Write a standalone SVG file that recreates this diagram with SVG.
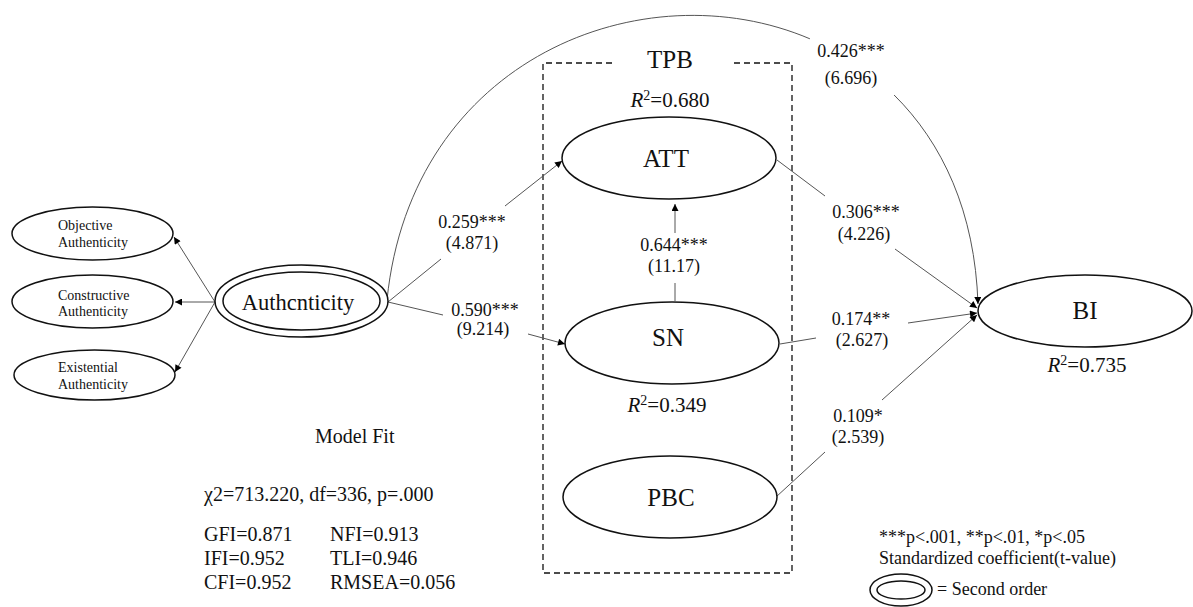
<svg xmlns="http://www.w3.org/2000/svg" width="1193" height="607" viewBox="0 0 1193 607">
  <style>
    text { font-family: "Liberation Serif", "Times New Roman", serif; fill: #111; }
    .node { fill: #fff; stroke: #111; stroke-width: 1.5; }
    .link { fill: none; stroke: #555; stroke-width: 1; }
    .arrow { marker-end: url(#head); }
    .coef { font-size: 18px; text-anchor: middle; }
    .lat { font-size: 25px; text-anchor: middle; }
    .small { font-size: 14px; }
    .r2 { font-size: 21px; text-anchor: middle; }
    .fit { font-size: 20px; }
    .legend { font-size: 18px; }
    .frame { fill: none; stroke: #111; stroke-width: 1.3; stroke-dasharray: 6 4; }
  </style>
  <defs>
    <marker id="head" viewBox="0 0 10 10" refX="10" refY="5" markerWidth="8" markerHeight="7" markerUnits="userSpaceOnUse" orient="auto">
      <path d="M0,0 L10,5 L0,10 z" fill="#000"/>
    </marker>
  </defs>

  <rect width="1193" height="607" fill="#fff"/>

  <!-- TPB frame: dashed box with a gap for its title -->
  <g id="tpb-frame">
    <path class="frame" d="M612,63 H543 V573 H792 V63 H730"/>
    <text class="lat" x="670" y="68">TPB</text>
  </g>

  <!-- Paths -->
  <g id="connectors">
    <!-- second-order loadings -->
    <path class="link arrow" d="M215,302 L174,237"/>
    <path class="link arrow" d="M215,302 L175,302"/>
    <path class="link arrow" d="M215,302 L175,372"/>
    <!-- Authenticity -> ATT -->
    <path class="link" d="M388,302 L441,259"/>
    <path class="link arrow" d="M505,206 L562,161"/>
    <!-- Authenticity -> SN -->
    <path class="link" d="M388,302 L443,315"/>
    <path class="link arrow" d="M528,334 L565,344"/>
    <!-- SN -> ATT -->
    <path class="link" d="M675,301 L675,283"/>
    <path class="link arrow" d="M675,233 L675,204"/>
    <!-- Authenticity -> BI (arc) -->
    <path class="link" d="M387,300 C411.5,58.1 643.6,-31.9 809.9,38.8"/>
    <path class="link arrow" d="M894.1,95 C942.3,142.6 975,211.8 978,304"/>
    <!-- ATT -> BI -->
    <path class="link" d="M777,160 L825,196"/>
    <path class="link arrow" d="M895,249 L977,308"/>
    <!-- SN -> BI -->
    <path class="link" d="M780,344 L816,338"/>
    <path class="link arrow" d="M908,323 L977,313"/>
    <!-- PBC -> BI -->
    <path class="link" d="M776,497 L825,452"/>
    <path class="link arrow" d="M882,400 L977,315"/>
  </g>

  <!-- Path coefficients -->
  <g id="coefficients">
    <text class="coef" x="472" y="228">0.259***</text>
    <text class="coef" x="472" y="249">(4.871)</text>
    <text class="coef" x="485" y="316">0.590***</text>
    <text class="coef" x="483" y="335">(9.214)</text>
    <text class="coef" x="674" y="251">0.644***</text>
    <text class="coef" x="674" y="272">(11.17)</text>
    <text class="coef" x="851" y="57">0.426***</text>
    <text class="coef" x="851" y="84">(6.696)</text>
    <text class="coef" x="866" y="218">0.306***</text>
    <text class="coef" x="864" y="240">(4.226)</text>
    <text class="coef" x="861" y="325">0.174**</text>
    <text class="coef" x="862" y="346">(2.627)</text>
    <text class="coef" x="858" y="422">0.109*</text>
    <text class="coef" x="858" y="443">(2.539)</text>
  </g>

  <!-- First-order authenticity factors -->
  <g id="objective">
    <ellipse class="node" cx="92.5" cy="233.5" rx="80.5" ry="26.5"/>
    <text class="small" x="58" y="230">Objective</text>
    <text class="small" x="58" y="247">Authenticity</text>
  </g>
  <g id="constructive">
    <ellipse class="node" cx="92.5" cy="301.5" rx="80.5" ry="26.5"/>
    <text class="small" x="58" y="300">Constructive</text>
    <text class="small" x="58" y="316">Authenticity</text>
  </g>
  <g id="existential">
    <ellipse class="node" cx="94.5" cy="375" rx="80.5" ry="25"/>
    <text class="small" x="58" y="372">Existential</text>
    <text class="small" x="58" y="389">Authenticity</text>
  </g>

  <!-- Second-order construct -->
  <g id="authenticity">
    <ellipse class="node" cx="301.5" cy="301" rx="86.5" ry="36"/>
    <ellipse class="node" cx="301.5" cy="301" rx="78.5" ry="29"/>
    <text x="298" y="310" font-size="22.5" text-anchor="middle">Authcnticity</text>
  </g>

  <!-- TPB constructs -->
  <g id="att">
    <text class="r2" x="670" y="107"><tspan font-style="italic">R</tspan><tspan font-size="14" dy="-7">2</tspan><tspan dy="7">=0.680</tspan></text>
    <ellipse class="node" cx="669" cy="158" rx="107" ry="41"/>
    <text class="lat" x="666" y="167">ATT</text>
  </g>
  <g id="sn">
    <ellipse class="node" cx="672" cy="343" rx="107" ry="41"/>
    <text class="lat" x="668" y="346">SN</text>
    <text class="r2" x="667" y="412"><tspan font-style="italic">R</tspan><tspan font-size="14" dy="-7">2</tspan><tspan dy="7">=0.349</tspan></text>
  </g>
  <g id="pbc">
    <ellipse class="node" cx="670" cy="497" rx="107" ry="41"/>
    <text class="lat" x="671" y="506">PBC</text>
  </g>

  <!-- Outcome -->
  <g id="bi">
    <ellipse class="node" cx="1085" cy="311" rx="107" ry="36"/>
    <text class="lat" x="1085" y="319">BI</text>
    <text class="r2" x="1087" y="372"><tspan font-style="italic">R</tspan><tspan font-size="14" dy="-7">2</tspan><tspan dy="7">=0.735</tspan></text>
  </g>

  <!-- Fit indices -->
  <g id="model-fit">
    <text class="fit" x="315" y="443">Model Fit</text>
    <text class="fit" x="204" y="501">χ2=713.220, df=336, p=.000</text>
    <text class="fit" x="204" y="541">GFI=0.871</text>
    <text class="fit" x="330" y="541">NFI=0.913</text>
    <text class="fit" x="204" y="565">IFI=0.952</text>
    <text class="fit" x="330" y="565">TLI=0.946</text>
    <text class="fit" x="204" y="589">CFI=0.952</text>
    <text class="fit" x="330" y="589">RMSEA=0.056</text>
  </g>

  <!-- Legend -->
  <g id="legend">
    <text class="legend" x="879" y="543">***p&lt;.001, **p&lt;.01, *p&lt;.05</text>
    <text class="legend" x="879" y="564">Standardized coefficient(t-value)</text>
    <ellipse class="node" cx="901" cy="590" rx="31" ry="16"/>
    <ellipse class="node" cx="901" cy="590" rx="24" ry="9"/>
    <text class="legend" x="937" y="595">= Second order</text>
  </g>
</svg>
